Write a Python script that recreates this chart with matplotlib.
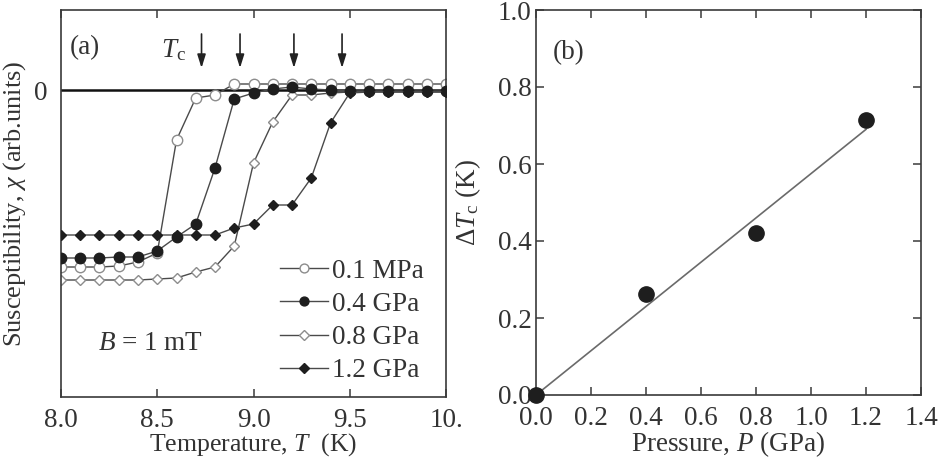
import matplotlib
matplotlib.use("Agg")
import matplotlib.pyplot as plt
import numpy as np

plt.rcParams['font.family'] = ['Liberation Serif', 'DejaVu Serif']
plt.rcParams['mathtext.fontset'] = 'custom'
plt.rcParams['mathtext.rm'] = 'Liberation Serif'
plt.rcParams['mathtext.it'] = 'Liberation Serif:italic'
plt.rcParams['mathtext.bf'] = 'Liberation Serif:bold'

# ---------------- data: panel (a) ----------------
temperature = [8.0, 8.1, 8.2, 8.3, 8.4, 8.5, 8.6, 8.7, 8.8, 8.9, 9.0,
               9.1, 9.2, 9.3, 9.4, 9.5, 9.6, 9.7, 9.8, 9.9, 10.0]
chi_01MPa = [-1.77, -1.77, -1.77, -1.76, -1.72, -1.63, -0.50, -0.08, -0.05, 0.06, 0.06,
             0.06, 0.06, 0.06, 0.06, 0.06, 0.06, 0.06, 0.06, 0.06, 0.06]
chi_04GPa = [-1.68, -1.68, -1.68, -1.67, -1.67, -1.61, -1.47, -1.34, -0.78, -0.09, -0.03,
             0.01, 0.03, 0.01, 0.00, -0.01, -0.01, -0.01, -0.01, -0.01, -0.01]
chi_08GPa = [-1.90, -1.90, -1.90, -1.90, -1.90, -1.89, -1.88, -1.82, -1.77, -1.56, -0.73,
             -0.32, -0.05, -0.05, -0.03, -0.02, -0.02, -0.02, -0.02, -0.02, -0.02]
chi_12GPa = [-1.45, -1.45, -1.45, -1.45, -1.45, -1.45, -1.45, -1.45, -1.45, -1.38, -1.34,
             -1.15, -1.15, -0.88, -0.33, -0.03, -0.02, -0.02, -0.02, -0.02, -0.02]
series_labels = ['0.1 MPa', '0.4 GPa', '0.8 GPa', '1.2 GPa']
tc_arrows = [8.73, 8.93, 9.21, 9.46]
xticks_a = [8.0, 8.5, 9.0, 9.5, 10.0]
xticklabels_a = ['8.0', '8.5', '9.0', '9.5', '10.']

# ---------------- data: panel (b) ----------------
pressure = [0.0, 0.4, 0.8, 1.2]
delta_tc = [0.0, 0.262, 0.42, 0.714]
fit_pressure = [0.0, 1.2]
fit_delta_tc = [0.0, 0.69]
xticks_b = [0.0, 0.2, 0.4, 0.6, 0.8, 1.0, 1.2, 1.4]
yticks_b = [0.0, 0.2, 0.4, 0.6, 0.8, 1.0]

W, H = 938, 459
fig = plt.figure(figsize=(W / 100, H / 100), dpi=100)

spine_c = '#3a3a3a'
line_c = '#4a4a4a'
open_edge = '#8c8c8c'
fill_c = '#1e1e1e'
txt_c = '#333333'
FS = 19.5


def px_axes(l, t, r, b):
    return fig.add_axes([l / W, 1 - b / H, (r - l) / W, (b - t) / H])


def px_text(x, y, s, **kw):
    fig.text(x / W, 1 - y / H, s, fontsize=FS, color=txt_c, va='center', **kw)


def style(ax):
    for s in ax.spines.values():
        s.set_color(spine_c)
        s.set_linewidth(1.2)
    ax.tick_params(direction='in', length=6, width=1.1, color=spine_c,
                   labelsize=FS, labelcolor=txt_c)


# ---------------- panel (a) ----------------
axa = px_axes(61, 10, 446, 397)
style(axa)
axa.set_xlim(8.0, 10.0)
axa.set_ylim(-3.07, 0.80)
axa.axhline(0, color='#111111', lw=1.8, zorder=1)

h1, = axa.plot(temperature, chi_01MPa, '-o', color=line_c, lw=1.0, ms=7.5,
               mfc='white', mec=open_edge, mew=1.0, zorder=2, label=series_labels[0])
h3, = axa.plot(temperature, chi_08GPa, '-D', color=line_c, lw=1.0, ms=5.5,
               mfc='white', mec=open_edge, mew=1.0, zorder=2, label=series_labels[2])
h2, = axa.plot(temperature, chi_04GPa, '-o', color=line_c, lw=1.0, ms=7.5,
               mfc=fill_c, mec=fill_c, zorder=3, label=series_labels[1])
h4, = axa.plot(temperature, chi_12GPa, '-D', color=line_c, lw=1.0, ms=5.5,
               mfc=fill_c, mec=fill_c, zorder=3, label=series_labels[3])

axa.set_xticks(xticks_a)
axa.set_xticklabels(xticklabels_a)
axa.set_yticks([0])
axa.set_yticklabels(['0'])
axa.tick_params(axis='x', top=True, bottom=True, pad=8)
axa.tick_params(axis='y', length=0, pad=10)

axa.set_xlabel('Temperature, $T$  (K)', fontsize=18.5, color=txt_c)
axa.xaxis.set_label_coords(0.5, -0.088)
axa.set_ylabel(r'Susceptibility, $\chi$ (arb.units)', fontsize=19, color=txt_c)
axa.yaxis.set_label_coords(-0.086, 0.5)

for t in tc_arrows:
    axa.annotate('', xy=(t, 0.22), xytext=(t, 0.56),
                 arrowprops=dict(arrowstyle='-|>,head_width=0.25,head_length=0.8',
                                 color='#222222', lw=1.2, shrinkA=0, shrinkB=0))

px_text(70, 48, '(a)')
px_text(161, 50, r'$T_\mathrm{c}$')
px_text(98, 343, '$B$ = 1 mT')

leg = axa.legend([h1, h2, h3, h4], series_labels, loc='upper left',
                 bbox_to_anchor=(0.57, 0.357), frameon=False, fontsize=FS,
                 handlelength=1.75, handletextpad=0.15, labelspacing=0.3,
                 borderpad=0, borderaxespad=0, markerscale=0.85)
for t in leg.get_texts():
    t.set_color(txt_c)

# ---------------- panel (b) ----------------
axb = px_axes(536, 10, 921, 395)
style(axb)
axb.set_xlim(0.0, 1.4)
axb.set_ylim(0.0, 1.0)
axb.plot(fit_pressure, fit_delta_tc, '-', color='#6a6a6a', lw=1.2, zorder=2)
axb.plot(pressure, delta_tc, 'o', color=fill_c, ms=11, zorder=3, clip_on=False)
axb.set_xticks(xticks_b)
axb.set_xticklabels([f'{v:.1f}' for v in xticks_b])
axb.set_yticks(yticks_b)
axb.set_yticklabels([f'{v:.1f}' for v in yticks_b])
axb.tick_params(axis='x', top=True, bottom=True, pad=8)
axb.tick_params(axis='y', left=True, right=True, pad=3)
axb.set_xlabel('Pressure, $P$ (GPa)', fontsize=FS, color=txt_c)
axb.xaxis.set_label_coords(0.5, -0.09)
axb.set_ylabel(r'Δ$T_\mathrm{c}$ (K)', fontsize=FS, color=txt_c)
axb.yaxis.set_label_coords(-0.137, 0.5)
px_text(553, 53, '(b)')

fig.savefig('out.png', dpi=100)
